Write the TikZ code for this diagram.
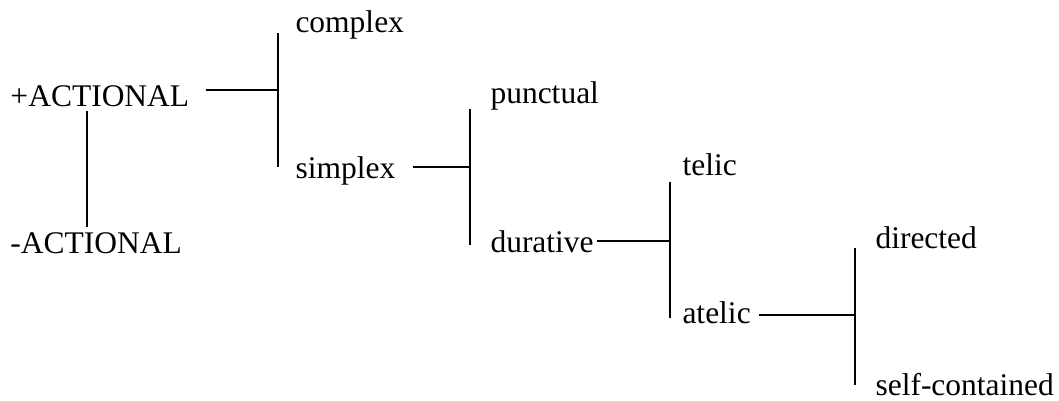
\documentclass[tikz,border=0pt]{standalone}
\usepackage{fontspec}
\setmainfont{Liberation Serif}

\begin{document}
\begin{tikzpicture}[x=0.4pt, y=-0.4pt,
    cat/.style={anchor=base west, inner sep=0pt, font=\fontsize{12.6}{15}\selectfont},
    link/.style={line width=0.9pt}]
  \useasboundingbox (0,0) rectangle (1059,400);

  \node [cat] (plus) at (10,106) {+ACTIONAL};
  \node [cat] (minus) at (10,253) {-ACTIONAL};
  \node [cat] (complex) at (295,32) {complex};
  \node [cat] (simplex) at (295,178) {simplex};
  \node [cat] (punctual) at (490,103) {punctual};
  \node [cat] (durative) at (490,252) {durative};
  \node [cat] (telic) at (682,175) {telic};
  \node [cat] (atelic) at (682,323) {atelic};
  \node [cat] (directed) at (875,248) {directed};
  \node [cat] (selfc) at (875,395) {self-contained};

  % the bars and where each branch meets them
  \coordinate (stem) at (87,0);
  \coordinate (b1t) at (278,33);  \coordinate (j1) at (278,90);  \coordinate (b1b) at (278,167);
  \coordinate (b2t) at (470,109); \coordinate (j2) at (470,167); \coordinate (b2b) at (470,245);
  \coordinate (b3t) at (670,182); \coordinate (j3) at (670,241); \coordinate (b3b) at (670,318);
  \coordinate (b4t) at (855,248); \coordinate (j4) at (855,315); \coordinate (b4b) at (855,385);

  \path [link] (plus.south -| stem) edge[shorten <=1.6pt, shorten >=2pt] (minus.north -| stem);

  \path [link] (plus.east |- j1) edge[shorten <=6.4pt] (j1);
  \path [link] (b1t) edge (b1b);

  \path [link] (simplex.east |- j2) edge[shorten <=6.8pt] (j2);
  \path [link] (b2t) edge (b2b);

  \path [link] (durative.east |- j3) edge[shorten <=1pt] (j3);
  \path [link] (b3t) edge (b3b);

  \path [link] (atelic.east |- j4) edge[shorten <=3.2pt] (j4);
  \path [link] (b4t) edge (b4b);
\end{tikzpicture}
\end{document}
